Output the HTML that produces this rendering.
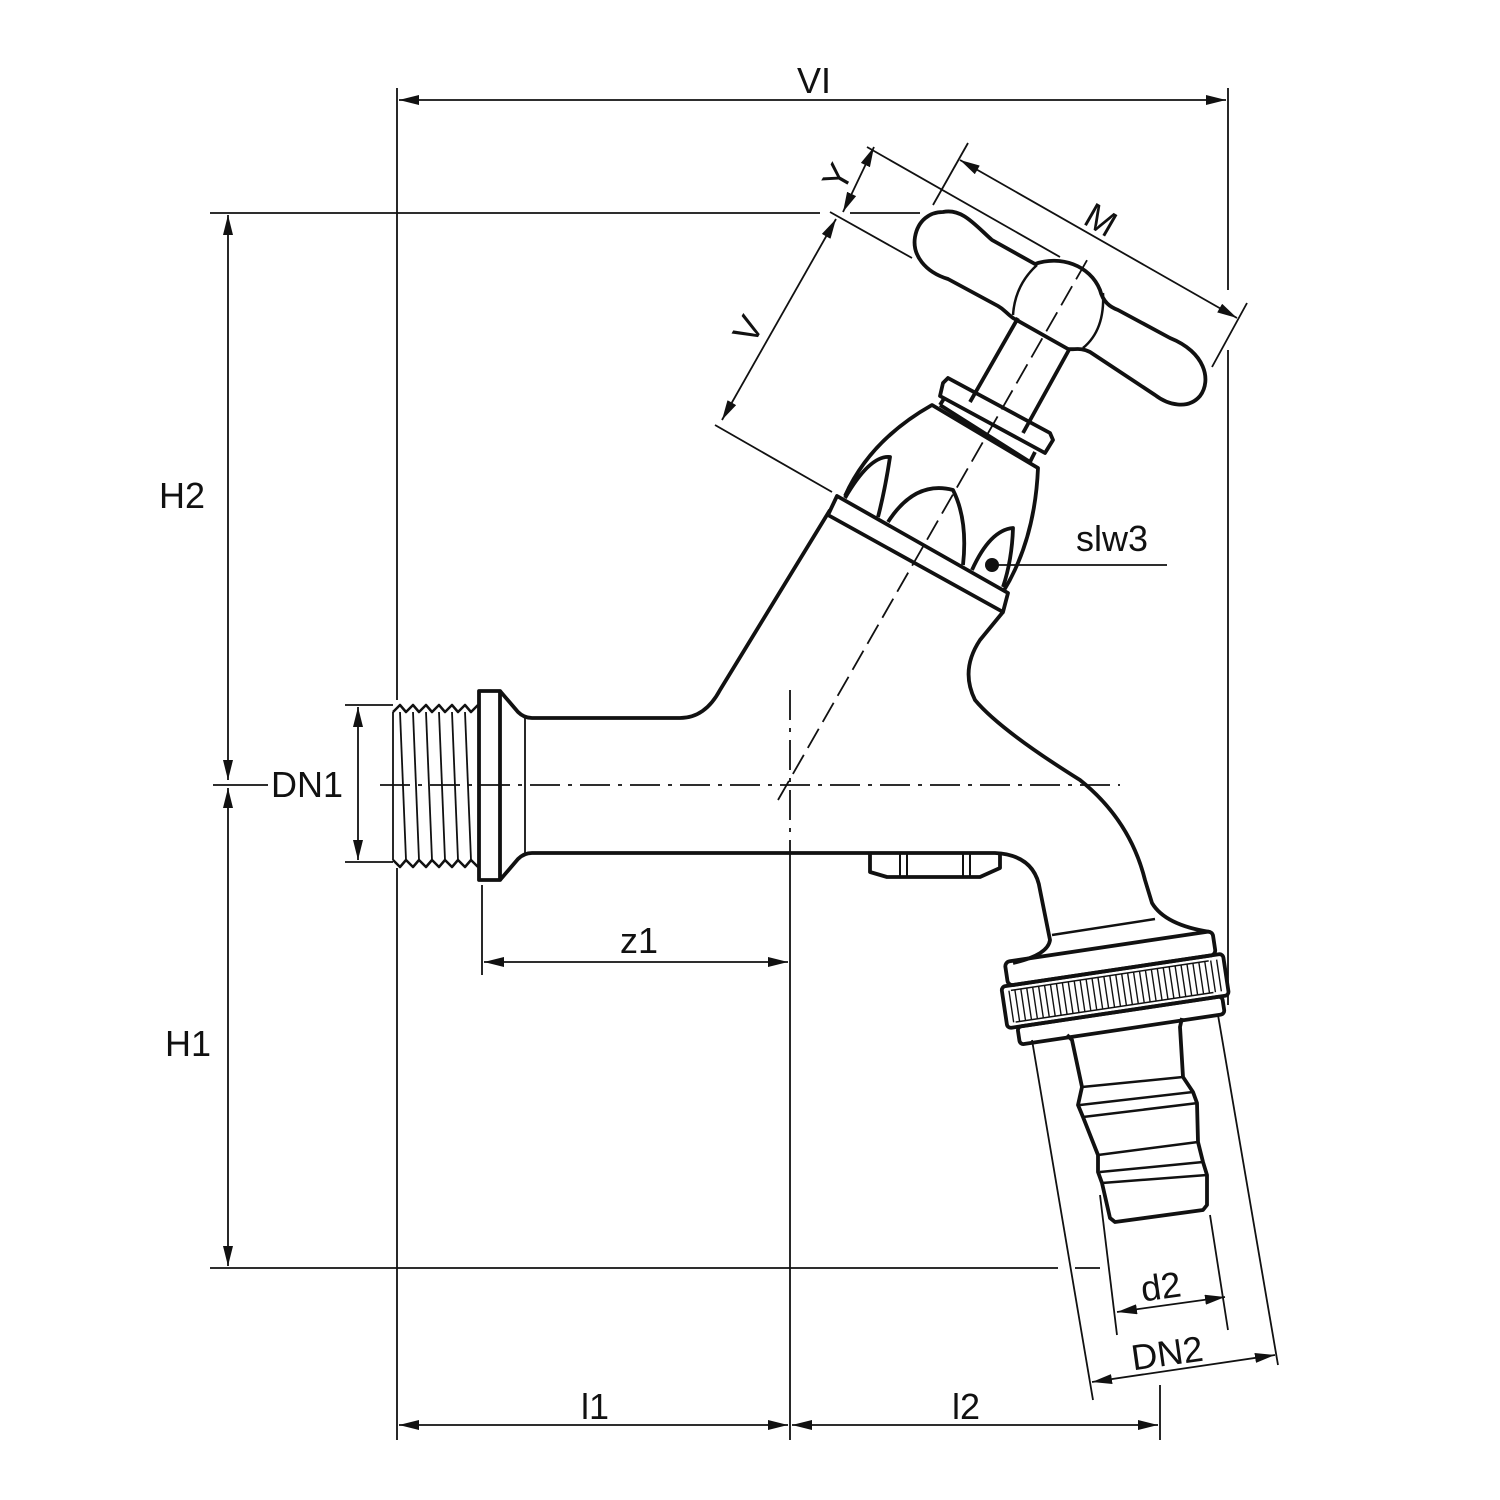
<!DOCTYPE html>
<html><head><meta charset="utf-8"><style>
html,body{margin:0;padding:0;background:#fff}
svg{display:block}
text{font-family:"Liberation Sans",sans-serif;font-size:36px;fill:#111}
</style></head><body>
<svg width="1500" height="1500" viewBox="0 0 1500 1500" xmlns="http://www.w3.org/2000/svg">
<defs>
<marker id="a" viewBox="0 0 20 10" refX="20" refY="5" markerWidth="20" markerHeight="10" markerUnits="userSpaceOnUse" orient="auto-start-reverse"><path d="M0,0 L20,5 L0,10 Z" fill="#111"/></marker>
</defs>
<g stroke="#111" fill="none" stroke-width="1.8">
<line x1="397" y1="88" x2="397" y2="700"/>
<line x1="397" y1="868" x2="397" y2="1440"/>
<line x1="1228" y1="88" x2="1228" y2="290"/>
<line x1="1228" y1="350" x2="1228" y2="1005"/>
<line x1="210" y1="213" x2="820" y2="213"/>
<line x1="850" y1="213" x2="920" y2="213"/>
<line x1="213" y1="785" x2="268" y2="785"/>
<line x1="210" y1="1268" x2="1058" y2="1268"/>
<line x1="1075" y1="1268" x2="1100" y2="1268"/>
<line x1="345" y1="705" x2="393" y2="705"/>
<line x1="345" y1="862" x2="393" y2="862"/>
<line x1="482" y1="885" x2="482" y2="975"/>
<line x1="790" y1="855" x2="790" y2="1440"/>
<line x1="1160" y1="1385" x2="1160" y2="1440"/>
<line x1="399" y1="100" x2="1226" y2="100" marker-start="url(#a)" marker-end="url(#a)"/>
<line x1="228" y1="215" x2="228" y2="780" marker-start="url(#a)" marker-end="url(#a)"/>
<line x1="228" y1="788" x2="228" y2="1266" marker-start="url(#a)" marker-end="url(#a)"/>
<line x1="358" y1="707" x2="358" y2="860" marker-start="url(#a)" marker-end="url(#a)"/>
<line x1="484" y1="962" x2="788" y2="962" marker-start="url(#a)" marker-end="url(#a)"/>
<line x1="399" y1="1425" x2="788" y2="1425" marker-start="url(#a)" marker-end="url(#a)"/>
<line x1="792" y1="1425" x2="1158" y2="1425" marker-start="url(#a)" marker-end="url(#a)"/>
<line x1="867" y1="147" x2="1060" y2="257"/>
<line x1="830" y1="212" x2="912" y2="258"/>
<line x1="715" y1="425" x2="832" y2="492"/>
<line x1="968" y1="143" x2="933" y2="205"/>
<line x1="1247" y1="303" x2="1212" y2="367"/>
<line x1="874" y1="147" x2="843" y2="212" marker-start="url(#a)" marker-end="url(#a)"/>
<line x1="836" y1="219" x2="722" y2="420" marker-start="url(#a)" marker-end="url(#a)"/>
<line x1="960" y1="160" x2="1237" y2="318" marker-start="url(#a)" marker-end="url(#a)"/>
<line x1="1100" y1="1195" x2="1117" y2="1335"/>
<line x1="1210" y1="1215" x2="1228" y2="1330"/>
<line x1="1032" y1="1040" x2="1093" y2="1400"/>
<line x1="1218" y1="1015" x2="1278" y2="1365"/>
<line x1="1117" y1="1312" x2="1225" y2="1297" marker-start="url(#a)" marker-end="url(#a)"/>
<line x1="1092" y1="1382" x2="1275" y2="1355" marker-start="url(#a)" marker-end="url(#a)"/>
<line x1="992" y1="565" x2="1167" y2="565"/>
<line x1="380" y1="785" x2="1120" y2="785" stroke-dasharray="30,8,4,8"/>
<line x1="790" y1="690" x2="790" y2="855" stroke-dasharray="30,8,4,8"/>
<line x1="778" y1="800" x2="1090" y2="255" stroke-dasharray="22,8"/>
</g>
<circle cx="992" cy="565" r="7" fill="#111"/>
<g stroke="#111" fill="none" stroke-width="3.8" stroke-linejoin="round">
<path d="M393,712 L400,705 L406,712 L413,705 L419,712 L426,705 L432,712 L439,705 L445,712 L452,705 L458,712 L465,705 L471,712 L478,705" stroke-width="2.5"/>
<path d="M393,860 L400,867 L406,860 L413,867 L419,860 L426,867 L432,860 L439,867 L445,860 L452,867 L458,860 L465,867 L471,860 L478,867" stroke-width="2.5"/>
<g stroke-width="1.8">
<line x1="393" y1="712" x2="393" y2="860"/>
<line x1="400" y1="712" x2="406" y2="860"/>
<line x1="413" y1="712" x2="419" y2="860"/>
<line x1="426" y1="712" x2="432" y2="860"/>
<line x1="439" y1="712" x2="445" y2="860"/>
<line x1="452" y1="712" x2="458" y2="860"/>
<line x1="465" y1="712" x2="471" y2="860"/>
</g>
<rect x="479" y="691" width="21" height="189"/>
<path d="M500,691 L518,712 Q524,718 532,718 L680,718 Q705,718 720,690 L830,510"/>
<path d="M500,880 L518,859 Q524,853 532,853 L995,853 Q1035,855 1040,890 L1050,940 Q1048,955 1013,963"/>
<line x1="525" y1="718" x2="525" y2="853" stroke-width="1.8"/>
<path d="M1003,612 L980,640 Q960,670 975,700 Q1000,730 1080,780 Q1130,820 1145,880 L1152,903 Q1165,925 1210,932"/>
<line x1="1052" y1="935" x2="1155" y2="919" stroke-width="2.5"/>
<path d="M870,852 L870,872 L887,877 L980,877 L1000,868 L1000,852"/>
<line x1="900" y1="853" x2="900" y2="877" stroke-width="2"/><line x1="907" y1="853" x2="907" y2="877" stroke-width="2"/>
<line x1="963" y1="853" x2="963" y2="877" stroke-width="2"/><line x1="970" y1="853" x2="970" y2="877" stroke-width="2"/>
<polygon points="837,496 1008,593 1003,612 828,515"/>
<path d="M845,496 Q870,440 932,405 L1038,468 Q1035,540 1003,592"/>
<path d="M845,498 Q870,455 890,457 Q885,490 878,517"/>
<path d="M888,522 Q915,480 953,490 Q968,520 963,565"/>
<path d="M972,570 Q990,530 1013,528 Q1012,560 1003,587"/>
<polygon points="948,378 1050,433 1053,440 1045,453 940,396 943,383"/>
<line x1="945" y1="397" x2="940" y2="405"/><line x1="1035" y1="452" x2="1030" y2="462"/>
<line x1="940" y1="405" x2="1030" y2="462"/>
<line x1="1018" y1="318" x2="970" y2="402"/>
<line x1="1070" y1="348" x2="1023" y2="433"/>
<path d="M943,212 C962,208 975,225 992,240 L1035,264 C1060,255 1090,265 1100,290 C1103,302 1110,307 1118,310 L1170,338 C1205,352 1212,380 1200,396 C1188,410 1168,405 1155,395 L1090,352 C1080,347 1075,350 1068,349 L1013,318 C1005,312 1005,310 998,306 L948,279 C925,272 912,255 915,237 C918,220 930,212 943,212 Z"/>
<path d="M1037,265 Q1015,285 1013,315" stroke-width="2.5"/>
<path d="M1103,293 Q1105,330 1083,348" stroke-width="2.5"/>
<g transform="rotate(-8.5 1115 990)">
<rect x="1010" y="946" width="210" height="24" rx="5"/>
<rect x="1003" y="970" width="224" height="42" rx="4"/>
<rect x="1013" y="1012" width="207" height="18" rx="4"/>
<path d="M1012,975 h200 M1012,1007 h200" stroke-width="1.5"/>
<path stroke-width="1.4" d="M1010,975v32M1016,975v32M1022,975v32M1028,975v32M1034,975v32M1040,975v32M1046,975v32M1052,975v32M1058,975v32M1064,975v32M1070,975v32M1076,975v32M1082,975v32M1088,975v32M1094,975v32M1100,975v32M1106,975v32M1112,975v32M1118,975v32M1124,975v32M1130,975v32M1136,975v32M1142,975v32M1148,975v32M1154,975v32M1160,975v32M1166,975v32M1172,975v32M1178,975v32M1184,975v32M1190,975v32M1196,975v32M1202,975v32M1208,975v32M1214,975v32M1220,975v32"/>
</g>
<path d="M1067,1035 L1072,1040 L1082,1087 L1078,1105 L1083,1117 L1098,1155 L1098,1172 L1102,1183 L1110,1218 L1115,1222 L1203,1210 L1207,1205 L1207,1175 L1203,1162 L1198,1142 L1197,1103 L1193,1092 L1183,1077 L1180,1027 L1182,1018"/>
<line x1="1082" y1="1087" x2="1183" y2="1077" stroke-width="2.5"/>
<line x1="1080" y1="1105" x2="1193" y2="1092" stroke-width="2.5"/>
<line x1="1083" y1="1117" x2="1198" y2="1103" stroke-width="2.5"/>
<line x1="1098" y1="1155" x2="1198" y2="1142" stroke-width="2.5"/>
<line x1="1100" y1="1172" x2="1203" y2="1162" stroke-width="2.5"/>
<line x1="1102" y1="1183" x2="1207" y2="1175" stroke-width="2.5"/>
</g>
<text x="797" y="93">VI</text>
<text x="159" y="508">H2</text>
<text x="165" y="1056">H1</text>
<text x="271" y="797">DN1</text>
<text x="620" y="953">z1</text>
<text x="581" y="1419">l1</text>
<text x="952" y="1419">l2</text>
<text x="1076" y="551">slw3</text>
<text x="1141" y="1298" transform="rotate(-8 1168 1287)">d2</text>
<text x="1131" y="1364" transform="rotate(-8 1178 1352)">DN2</text>
<text x="1087" y="233" transform="rotate(30 1103 218)">M</text>
<text x="735" y="339" transform="rotate(-60 750 327)">V</text>
<text x="824" y="188" transform="rotate(-60 838 175)">Y</text>
</svg>
</body></html>
